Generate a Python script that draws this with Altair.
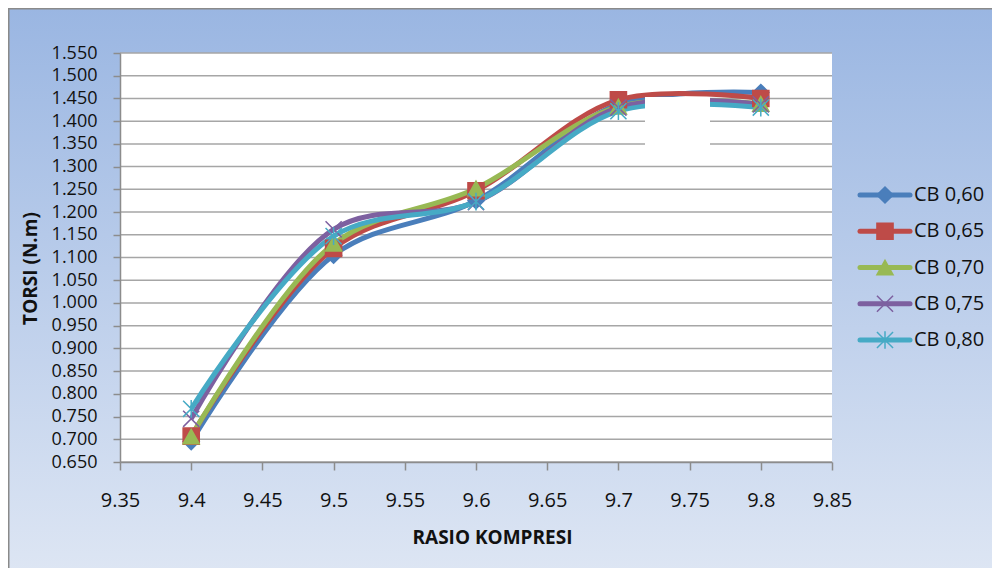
import altair as alt
import pandas as pd

# ---- data ----
rasio = [9.4, 9.5, 9.6, 9.7, 9.8]
series_names = ["CB 0,60", "CB 0,65", "CB 0,70", "CB 0,75", "CB 0,80"]
cb060 = [0.695, 1.105, 1.225, 1.437, 1.463]
cb065 = [0.707, 1.120, 1.247, 1.447, 1.450]
cb070 = [0.706, 1.130, 1.252, 1.432, 1.438]
cb075 = [0.745, 1.162, 1.222, 1.430, 1.437]
cb080 = [0.767, 1.147, 1.223, 1.422, 1.430]

x_ticks = [9.35, 9.4, 9.45, 9.5, 9.55, 9.6, 9.65, 9.7, 9.75, 9.8, 9.85]
y_ticks = [0.65, 0.70, 0.75, 0.80, 0.85, 0.90, 0.95, 1.00, 1.05, 1.10,
           1.15, 1.20, 1.25, 1.30, 1.35, 1.40, 1.45, 1.50, 1.55]

colors = ["#4A7EBB", "#BE4B48", "#98B954", "#7D60A0", "#46AAC5"]
shapes = [
    "diamond",
    "square",
    "M0,-0.9L1,0.9L-1,0.9Z",
    "M-1,-1L1,1M-1,1L1,-1",
    "M-1,-1L1,1M-1,1L1,-1M0,-1.1L0,1.1",
]

all_vals = [cb060, cb065, cb070, cb075, cb080]
rows = []
for name, vals in zip(series_names, all_vals):
    for xv, yv in zip(rasio, vals):
        rows.append({"rasio": xv, "torsi": yv, "series": name})
df = pd.DataFrame(rows)
grid_df = pd.DataFrame({"v": y_ticks})
leg_df = pd.DataFrame({"series": series_names, "idx": list(range(len(series_names)))})

W, H = 712, 409
PL, PT, PR, PB = 112, 45, 160, 106
FONT = "Open Sans"

xdom = [9.35, 9.85]
ydom = [0.65, 1.55]
yscale = alt.Scale(domain=ydom, nice=False, zero=False)
xscale = alt.Scale(domain=xdom, nice=False, zero=False)
color_scale = alt.Scale(domain=series_names, range=colors)
shape_scale = alt.Scale(domain=series_names, range=shapes)

x_axis = alt.Axis(
    values=x_ticks, labelExpr="format(datum.value, '.2~f')", title="RASIO KOMPRESI",
    grid=False, domainColor="#8C8C8C", domainWidth=1.5, tickColor="#8C8C8C",
    tickSize=8, tickWidth=1.5, labelFont=FONT, labelFontSize=20, labelColor="#111111",
    labelPadding=30, labelBaseline="middle", labelFlush=False, labelOverlap=False,
    titleFont=FONT, titleFontSize=19, titleFontWeight="bold", titleColor="#111111",
    titleX=372, titleY=75, titleBaseline="middle", titleAnchor="middle", zindex=1,
)
y_axis = alt.Axis(
    values=y_ticks, format=".3f", title="TORSI (N.m)", grid=False,
    domainColor="#8C8C8C", domainWidth=1.5, tickColor="#8C8C8C", tickSize=7,
    tickWidth=1.5, labelFont=FONT, labelFontSize=18, labelColor="#111111",
    labelPadding=16, labelFlush=False, labelOverlap=False,
    titleFont=FONT, titleFontSize=19, titleFontWeight="bold", titleColor="#111111",
    titleX=-90, titleY=215, titleAngle=-90, titleBaseline="middle",
    titleAlign="center", zindex=1,
)

base_one = alt.Chart(pd.DataFrame({"a": [0]}))

bg = base_one.mark_rect(
    fill=alt.LinearGradient(
        gradient="linear", x1=0, y1=0, x2=0, y2=1,
        stops=[alt.GradientStop(color="#9AB6E2", offset=0),
               alt.GradientStop(color="#DFE7F4", offset=1)],
    ),
    stroke="#8A8A8A", strokeWidth=3,
).encode(x=alt.value(-PL), x2=alt.value(W + PR + 20), y=alt.value(-PT), y2=alt.value(H + PB + 20))

plot_bg = base_one.mark_rect(fill="white").encode(
    x=alt.value(0), x2=alt.value(W), y=alt.value(0), y2=alt.value(H)
)

grid = alt.Chart(grid_df).mark_rule(color="#A6A6A6", strokeWidth=1.5).encode(
    y=alt.Y("v:Q", scale=yscale, axis=None)
)

lines = alt.Chart(df).mark_line(strokeWidth=5, interpolate="catmull-rom").encode(
    x=alt.X("rasio:Q", scale=xscale, axis=x_axis),
    y=alt.Y("torsi:Q", scale=yscale, axis=y_axis),
    color=alt.Color("series:N", scale=color_scale, legend=None),
)

points = alt.Chart(df).mark_point(filled=True, size=260, strokeWidth=1.5, opacity=1).encode(
    x=alt.X("rasio:Q", scale=xscale, axis=x_axis),
    y=alt.Y("torsi:Q", scale=yscale, axis=None),
    color=alt.Color("series:N", scale=color_scale, legend=None),
    stroke=alt.Stroke("series:N", scale=color_scale, legend=None),
    shape=alt.Shape("series:N", scale=shape_scale, legend=None),
)

box = base_one.mark_rect(fill="white").encode(
    x=alt.value(525), x2=alt.value(590), y=alt.value(44), y2=alt.value(97)
)

leg_y = alt.Y("idx:Q", scale=alt.Scale(domain=[0, len(series_names) - 1], range=[142, 287],
                                       nice=False, zero=False), axis=None)

leg_rule = alt.Chart(leg_df).mark_rule(strokeWidth=5, strokeCap="round").encode(
    x=alt.value(740), x2=alt.value(790), y=leg_y,
    color=alt.Color("series:N", scale=color_scale, legend=None),
)
leg_pt = alt.Chart(leg_df).mark_point(filled=True, size=260, strokeWidth=1.5, opacity=1).encode(
    x=alt.value(765), y=leg_y,
    color=alt.Color("series:N", scale=color_scale, legend=None),
    stroke=alt.Stroke("series:N", scale=color_scale, legend=None),
    shape=alt.Shape("series:N", scale=shape_scale, legend=None),
)
leg_text = alt.Chart(leg_df).mark_text(
    align="left", baseline="middle", font=FONT, fontSize=20, color="#111111"
).encode(x=alt.value(794), y=leg_y, text="series:N")

chart = alt.layer(
    bg, plot_bg, grid, lines, points, box, leg_rule, leg_pt, leg_text
).resolve_scale(y="independent").properties(
    width=W, height=H,
    autosize=alt.AutoSizeParams(type="none"),
    padding={"left": PL, "top": PT, "right": PR, "bottom": PB},
).configure_view(stroke=None)

chart.save("out.html", embed_options={"renderer": "svg", "actions": False})
